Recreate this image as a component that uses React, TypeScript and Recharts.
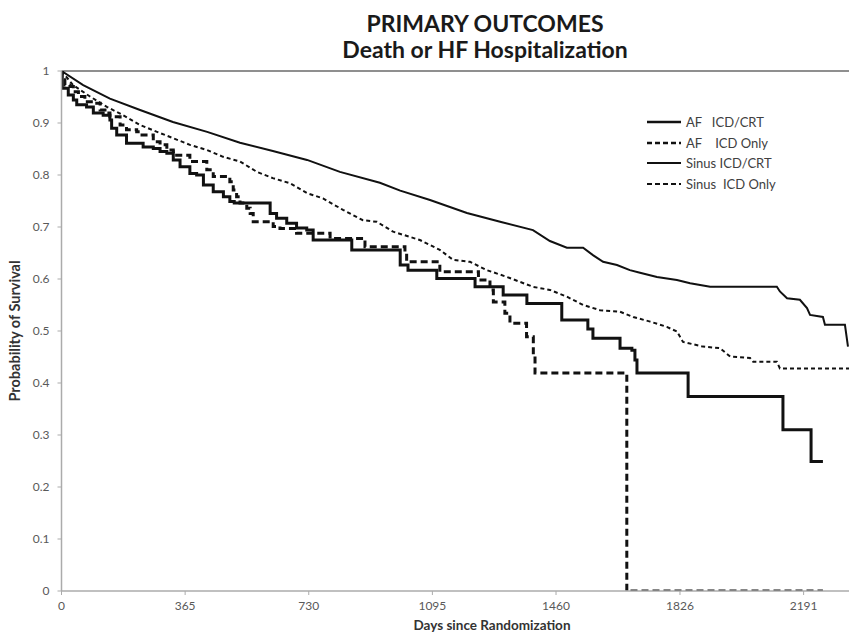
import React from 'react';
import { LineChart, Line, XAxis, YAxis, ReferenceLine, Label } from 'recharts';

// Kaplan-Meier curves (days since randomization, survival)
const afCrtDays = [0, 2, 20, 35, 45, 74, 94, 123, 143, 148, 163, 192, 241, 271, 291, 311, 330, 350, 379, 399, 419, 448, 478, 497, 510, 616, 635, 665, 694, 724, 743, 857, 1000, 1023, 1108, 1221, 1304, 1374, 1477, 1554, 1569, 1649, 1684, 1693, 1699, 1850, 2130, 2213, 2248];
const afCrtSurv = [1, 0.967, 0.954, 0.944, 0.935, 0.931, 0.919, 0.915, 0.906, 0.89, 0.877, 0.861, 0.854, 0.851, 0.845, 0.842, 0.829, 0.816, 0.803, 0.8, 0.781, 0.768, 0.758, 0.749, 0.746, 0.726, 0.717, 0.707, 0.698, 0.694, 0.675, 0.656, 0.627, 0.617, 0.601, 0.585, 0.569, 0.553, 0.521, 0.504, 0.486, 0.467, 0.463, 0.444, 0.419, 0.374, 0.31, 0.249, 0.249];

const afIcdDays = [0, 1, 10, 25, 35, 50, 69, 94, 114, 133, 143, 173, 192, 222, 232, 271, 291, 311, 330, 340, 379, 429, 448, 497, 507, 517, 527, 547, 557, 566, 625, 645, 694, 793, 896, 1014, 1019, 1117, 1231, 1265, 1275, 1309, 1324, 1373, 1393, 1398, 1669, 2248];
const afIcdSurv = [1, 0.983, 0.973, 0.97, 0.96, 0.951, 0.941, 0.938, 0.925, 0.919, 0.912, 0.896, 0.887, 0.883, 0.877, 0.864, 0.858, 0.848, 0.845, 0.838, 0.826, 0.81, 0.797, 0.787, 0.771, 0.758, 0.746, 0.736, 0.726, 0.71, 0.701, 0.697, 0.688, 0.678, 0.662, 0.649, 0.633, 0.614, 0.598, 0.579, 0.556, 0.534, 0.515, 0.489, 0.451, 0.419, 0, 0];

const sinusCrtDays = [0, 64, 143, 232, 329, 430, 527, 624, 725, 822, 940, 1000, 1088, 1197, 1295, 1392, 1442, 1492, 1540, 1569, 1599, 1640, 1678, 1708, 1758, 1817, 1856, 1915, 2112, 2121, 2142, 2180, 2201, 2210, 2248, 2254, 2313, 2322];
const sinusCrtSurv = [1, 0.973, 0.947, 0.925, 0.902, 0.883, 0.862, 0.846, 0.829, 0.806, 0.785, 0.77, 0.752, 0.727, 0.71, 0.694, 0.673, 0.66, 0.66, 0.646, 0.633, 0.627, 0.617, 0.612, 0.604, 0.598, 0.592, 0.585, 0.585, 0.576, 0.563, 0.56, 0.544, 0.531, 0.527, 0.512, 0.512, 0.47];

const sinusIcdDays = [0, 34, 84, 134, 182, 232, 282, 329, 379, 430, 477, 527, 577, 624, 675, 725, 772, 831, 890, 931, 979, 1058, 1117, 1156, 1206, 1256, 1315, 1392, 1442, 1492, 1540, 1590, 1649, 1688, 1738, 1787, 1817, 1835, 1894, 1944, 1974, 2033, 2042, 2112, 2121, 2325];
const sinusIcdSurv = [1, 0.973, 0.951, 0.931, 0.915, 0.896, 0.883, 0.871, 0.858, 0.848, 0.835, 0.826, 0.806, 0.794, 0.784, 0.765, 0.755, 0.733, 0.713, 0.71, 0.691, 0.675, 0.656, 0.637, 0.633, 0.617, 0.604, 0.585, 0.579, 0.566, 0.55, 0.54, 0.537, 0.527, 0.518, 0.508, 0.499, 0.479, 0.47, 0.467, 0.451, 0.448, 0.441, 0.441, 0.428, 0.428];

const seriesNames = ['AF   ICD/CRT', 'AF    ICD Only', 'Sinus ICD/CRT', 'Sinus  ICD Only'];
const dayTicks = [0, 365, 730, 1095, 1460, 1826, 2191];
const survTicks = [0, 0.1, 0.2, 0.3, 0.4, 0.5, 0.6, 0.7, 0.8, 0.9, 1];

const toPoints = (days: number[], surv: number[]) => days.map((day, i) => ({ day, s: surv[i] }));

const FONT = 'Lato, "Open Sans", sans-serif';

const lineStyles = [
  { width: 3, dash: undefined as string | undefined, type: 'stepAfter' as const },
  { width: 3, dash: '7 4', type: 'stepAfter' as const },
  { width: 2, dash: undefined, type: 'linear' as const },
  { width: 2, dash: '4 3', type: 'linear' as const },
];

export default function App() {
  const series = [
    toPoints(afCrtDays, afCrtSurv),
    toPoints(afIcdDays, afIcdSurv),
    toPoints(sinusCrtDays, sinusCrtSurv),
    toPoints(sinusIcdDays, sinusIcdSurv),
  ];

  return (
    <div style={{ position: 'absolute', left: 0, top: 0, width: 849, height: 643, background: '#fff', fontFamily: FONT }}>
      <div style={{ position: 'absolute', left: 235, top: 10, width: 500, textAlign: 'center', fontWeight: 700, fontSize: 23, lineHeight: '26px', color: '#1a1a1a' }}>
        <div>PRIMARY OUTCOMES</div>
        <div>Death or HF Hospitalization</div>
      </div>

      <LineChart width={849} height={643} margin={{ top: 71, right: 0, left: 0, bottom: 0 }}>
        <XAxis
          type="number"
          dataKey="day"
          domain={[0, 2325]}
          ticks={dayTicks}
          interval={0}
          allowDataOverflow
          height={52}
          tickSize={4}
          tickMargin={6}
          axisLine={{ stroke: '#ababab', strokeWidth: 1.5 }}
          tickLine={{ stroke: '#ababab' }}
          tick={{ fill: '#595959', fontSize: 12, fontFamily: FONT }}
        >
          <Label
            content={() => (
              <text x={492} y={630} textAnchor="middle" fontFamily={FONT} fontWeight={700} fontSize={13.5} fill="#333">
                Days since Randomization
              </text>
            )}
          />
        </XAxis>
        <YAxis
          type="number"
          domain={[0, 1]}
          ticks={survTicks}
          interval={0}
          allowDataOverflow
          width={61.5}
          tickSize={4}
          tickMargin={8}
          axisLine={{ stroke: '#ababab', strokeWidth: 1.5 }}
          tickLine={{ stroke: '#ababab' }}
          tick={{ fill: '#595959', fontSize: 12, fontFamily: FONT }}
        >
          <Label
            content={() => (
              <text x={20} y={331} transform="rotate(-90 20 331)" textAnchor="middle" fontFamily={FONT} fontWeight={700} fontSize={14.5} fill="#333">
                Probability of Survival
              </text>
            )}
          />
        </YAxis>
        <ReferenceLine y={1} stroke="#8f8f8f" strokeWidth={2} />
        {series.map((data, i) => (
          <Line
            key={seriesNames[i]}
            data={data}
            dataKey="s"
            name={seriesNames[i]}
            type={lineStyles[i].type}
            stroke="#111"
            strokeWidth={lineStyles[i].width}
            strokeDasharray={lineStyles[i].dash}
            dot={false}
            activeDot={false}
            isAnimationActive={false}
          />
        ))}
      </LineChart>

      <div style={{ position: 'absolute', left: 645, top: 112 }}>
        {seriesNames.map((name, i) => (
          <div key={name} style={{ display: 'flex', alignItems: 'center', height: 20.5 }}>
            <svg width={38} height={8}>
              <line x1={2} y1={4} x2={36} y2={4} stroke="#111" strokeWidth={i < 2 ? 2.5 : 2} strokeDasharray={lineStyles[i].dash ? '5 3' : undefined} />
            </svg>
            <span style={{ whiteSpace: 'pre', fontSize: 13, color: '#404040', marginLeft: 3 }}>{name}</span>
          </div>
        ))}
      </div>
    </div>
  );
}
